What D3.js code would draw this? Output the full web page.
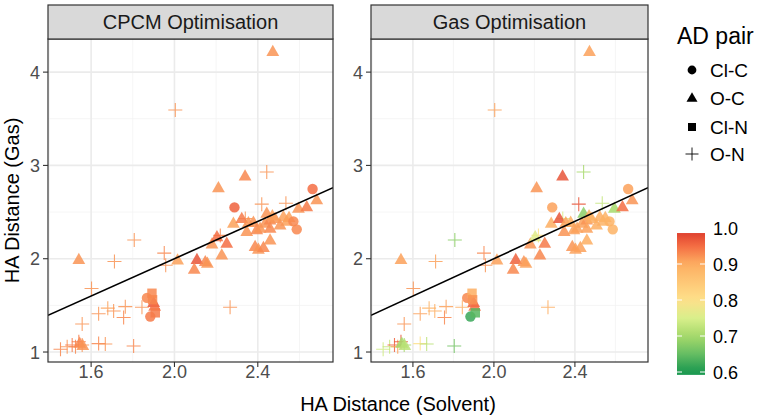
<!DOCTYPE html>
<html>
<head>
<meta charset="utf-8">
<script src="https://cdn.jsdelivr.net/npm/d3@7"></script>
<style>
  body { margin: 0; background: #fff; }
  text { font-family: "Liberation Sans", Arial, sans-serif; }
</style>
</head>
<body>
<script>
var width = 765;
var height = 416;

// facets and legend entries
var panels = ["CPCM Optimisation", "Gas Optimisation"];
var pairs = ["Cl-C", "O-C", "Cl-N", "O-N"];
var xTicks = [1.6, 2.0, 2.4];
var xMinor = [1.4, 1.8, 2.2, 2.6];
var yTicks = [1, 2, 3, 4];
var yMinor = [1.5, 2.5, 3.5];
var scoreTicks = [0.6, 0.7, 0.8, 0.9, 1.0];

// HA distances (same in both panels), AD pair and score per optimisation
var xSolvent = [1.807, 1.712, 1.951, 1.958, 1.602, 1.636, 1.680, 1.708, 1.764, 1.756,
  1.844, 1.557, 1.804, 1.636, 1.668, 1.453, 1.485, 1.509, 1.525, 1.541,
  1.557, 2.004, 2.443, 2.419, 2.535, 2.267, 2.220, 2.340,
  2.472, 2.339, 2.211, 1.541, 2.015, 2.108, 2.095, 2.148, 2.158, 2.227,
  2.180, 2.251, 2.204, 2.283, 2.323, 2.355, 2.379, 2.347, 2.395, 2.443,
  2.435, 2.459, 2.483, 2.523, 2.539, 2.507, 2.459, 2.411, 2.595, 2.635,
  2.683, 2.387, 2.403, 2.427, 2.459, 1.545, 1.560, 2.470, 2.550,
  1.900, 1.905,
  2.288, 2.663, 2.571, 2.587, 1.868, 1.884,
  1.892, 1.908, 1.895];
var yGas = [2.20, 1.97, 2.06, 1.93, 1.68, 1.41, 1.47, 1.44, 1.486, 1.37,
  1.48, 1.30, 1.064, 1.09, 1.086, 1.03, 1.057, 1.075, 1.057, 1.11,
  1.075, 3.594, 2.93, 2.585, 2.595, 1.48, 2.25, 2.43,
  4.22, 2.886, 2.76, 1.99, 1.986, 1.99, 1.887, 1.968, 1.95, 2.04,
  2.157, 2.165, 2.235, 2.38, 2.43, 2.386, 2.39, 2.29, 2.31, 2.486,
  2.38, 2.415, 2.43, 2.45, 2.40, 2.36, 2.325, 2.325, 2.54, 2.556,
  2.63, 2.13, 2.10, 2.12, 2.20, 1.093, 1.07, 2.46, 2.44,
  1.53, 1.49,
  2.55, 2.747, 2.40, 2.315, 1.58, 1.38,
  1.63, 1.42, 1.56];
var pair = ["O-N", "O-N", "O-N", "O-N", "O-N", "O-N", "O-N", "O-N", "O-N", "O-N",
  "O-N", "O-N", "O-N", "O-N", "O-N", "O-N", "O-N", "O-N", "O-N", "O-N",
  "O-N", "O-N", "O-N", "O-N", "O-N", "O-N", "O-N", "O-N",
  "O-C", "O-C", "O-C", "O-C", "O-C", "O-C", "O-C", "O-C", "O-C", "O-C",
  "O-C", "O-C", "O-C", "O-C", "O-C", "O-C", "O-C", "O-C", "O-C", "O-C",
  "O-C", "O-C", "O-C", "O-C", "O-C", "O-C", "O-C", "O-C", "O-C", "O-C",
  "O-C", "O-C", "O-C", "O-C", "O-C", "O-C", "O-C", "O-C", "O-C",
  "O-C", "O-C",
  "Cl-C", "Cl-C", "Cl-C", "Cl-C", "Cl-C", "Cl-C",
  "Cl-N", "Cl-N", "Cl-N"];
var cpcmScore = [0.92, 0.92, 0.93, 0.92, 0.92, 0.92, 0.91, 0.92, 0.92, 0.93,
  0.92, 0.92, 0.93, 0.93, 0.92, 0.93, 0.92, 0.94, 0.93, 0.94,
  0.92, 0.92, 0.92, 0.92, 0.92, 0.92, 0.93, 0.92,
  0.92, 0.93, 0.92, 0.92, 0.91, 0.97, 0.93, 0.93, 0.92, 0.92,
  0.92, 0.95, 0.95, 0.91, 0.94, 0.92, 0.92, 0.92, 0.93, 0.92,
  0.92, 0.93, 0.92, 0.91, 0.91, 0.92, 0.93, 0.92, 0.92, 0.94,
  0.92, 0.93, 0.92, 0.93, 0.92, 0.93, 0.92, 0.91, 0.91,
  0.97, 0.95,
  0.96, 0.95, 0.93, 0.93, 0.93, 0.94,
  0.93, 0.94, 0.93];
var gasScore = [0.68, 0.91, 0.93, 0.92, 0.92, 0.91, 0.89, 0.90, 0.91, 0.93,
  0.90, 0.92, 0.66, 0.80, 0.72, 0.74, 0.73, 0.96, 0.91, 0.97,
  0.70, 0.91, 0.70, 0.97, 0.73, 0.90, 0.80, 0.75,
  0.91, 0.97, 0.92, 0.91, 0.91, 0.96, 0.93, 0.92, 0.91, 0.93,
  0.92, 0.94, 0.76, 0.90, 0.97, 0.91, 0.90, 0.92, 0.91, 0.68,
  0.91, 0.92, 0.90, 0.90, 0.89, 0.90, 0.91, 0.91, 0.70, 0.95,
  0.92, 0.92, 0.91, 0.91, 0.90, 0.70, 0.72, 0.89, 0.89,
  0.96, 0.95,
  0.91, 0.91, 0.89, 0.89, 0.93, 0.62,
  0.90, 0.64, 0.92];

var scores = [cpcmScore, gasScore];

var color = d3.scaleLinear()
  .domain([0.6, 0.65, 0.7, 0.75, 0.8, 0.9, 0.95, 1.0])
  .range(["#1a9850", "#66bd63", "#a6d96a", "#d9ef8b", "#fee08b", "#fdae61", "#f46d43", "#d73027"])
  .clamp(true);

var panelBox = [
  { x0: 48, x1: 333 },
  { x0: 371, x1: 648 }
];
var panelTop = 39, panelBottom = 362, stripTop = 5;

var svg = d3.select("body").append("svg")
  .attr("width", width)
  .attr("height", height);

var y = d3.scaleLinear().domain([0.893, 4.355]).range([panelBottom, panelTop]);

function shapePath(p) {
  if (p == "Cl-C") return "M-5.2,0A5.2,5.2 0 1,0 5.2,0A5.2,5.2 0 1,0 -5.2,0Z";
  if (p == "O-C") return "M0,-6.8L6.4,4.4L-6.4,4.4Z";
  if (p == "Cl-N") return "M-4.7,-4.7H4.7V4.7H-4.7Z";
  return "M-7,0H7M0,-7V7";
}

function legendPath(p) {
  if (p == "Cl-C") return "M-4.4,0A4.4,4.4 0 1,0 4.4,0A4.4,4.4 0 1,0 -4.4,0Z";
  if (p == "O-C") return "M0,-5.8L5.5,3.8L-5.5,3.8Z";
  if (p == "Cl-N") return "M-4,-4H4V4H-4Z";
  return "M-6.5,0H6.5M0,-6.5V6.5";
}

panels.forEach(function(name, i) {
  var box = panelBox[i];
  var x = d3.scaleLinear().domain([1.393, 2.761]).range([box.x0, box.x1]);
  var g = svg.append("g");

  g.append("clipPath").attr("id", "clip" + i)
    .append("rect")
    .attr("x", box.x0).attr("y", panelTop)
    .attr("width", box.x1 - box.x0).attr("height", panelBottom - panelTop);

  // grid
  g.selectAll(".xminor").data(xMinor).enter().append("line")
    .attr("x1", x).attr("x2", x).attr("y1", panelTop).attr("y2", panelBottom)
    .style("stroke", "#f2f2f2").style("stroke-width", 0.8);
  g.selectAll(".yminor").data(yMinor).enter().append("line")
    .attr("x1", box.x0).attr("x2", box.x1).attr("y1", y).attr("y2", y)
    .style("stroke", "#f2f2f2").style("stroke-width", 0.8);
  g.selectAll(".xmajor").data(xTicks).enter().append("line")
    .attr("x1", x).attr("x2", x).attr("y1", panelTop).attr("y2", panelBottom)
    .style("stroke", "#ebebeb").style("stroke-width", 1.6);
  g.selectAll(".ymajor").data(yTicks).enter().append("line")
    .attr("x1", box.x0).attr("x2", box.x1).attr("y1", y).attr("y2", y)
    .style("stroke", "#ebebeb").style("stroke-width", 1.6);

  // points
  var pts = d3.range(xSolvent.length);
  var layer = g.append("g").attr("clip-path", "url(#clip" + i + ")");
  layer.selectAll("path.pt").data(pts).enter().append("path")
    .attr("class", "pt")
    .attr("transform", function(d) { return "translate(" + x(xSolvent[d]) + "," + y(yGas[d]) + ")"; })
    .attr("d", function(d) { return shapePath(pair[d]); })
    .style("fill", function(d) { return pair[d] == "O-N" ? "none" : color(scores[i][d]); })
    .style("stroke", function(d) { return pair[d] == "O-N" ? color(scores[i][d]) : "none"; })
    .style("stroke-width", 1.1)
    .style("opacity", 0.85);

  // identity line
  layer.append("line")
    .attr("x1", x(1.393)).attr("y1", y(1.393))
    .attr("x2", x(2.761)).attr("y2", y(2.761))
    .style("stroke", "#000").style("stroke-width", 1.6);

  // border and strip
  g.append("rect")
    .attr("x", box.x0).attr("y", panelTop)
    .attr("width", box.x1 - box.x0).attr("height", panelBottom - panelTop)
    .style("fill", "none").style("stroke", "#333").style("stroke-width", 1.2);
  g.append("rect")
    .attr("x", box.x0).attr("y", stripTop)
    .attr("width", box.x1 - box.x0).attr("height", panelTop - stripTop)
    .style("fill", "#d9d9d9").style("stroke", "#333").style("stroke-width", 1.2);
  g.append("text")
    .attr("x", (box.x0 + box.x1) / 2).attr("y", 29)
    .attr("text-anchor", "middle")
    .style("font-size", "20px").style("fill", "#1a1a1a")
    .text(name);

  // axes
  g.selectAll(".xt").data(xTicks).enter().append("line")
    .attr("x1", x).attr("x2", x).attr("y1", panelBottom).attr("y2", panelBottom + 5)
    .style("stroke", "#333").style("stroke-width", 1.1);
  g.selectAll(".xl").data(xTicks).enter().append("text")
    .attr("x", x).attr("y", 378)
    .attr("text-anchor", "middle")
    .style("font-size", "18px").style("fill", "#4d4d4d")
    .text(function(d) { return d3.format(".1f")(d); });
  g.selectAll(".yt").data(yTicks).enter().append("line")
    .attr("x1", box.x0 - 5).attr("x2", box.x0).attr("y1", y).attr("y2", y)
    .style("stroke", "#333").style("stroke-width", 1.1);
  g.selectAll(".yl").data(yTicks).enter().append("text")
    .attr("x", box.x0 - 8).attr("y", function(d) { return y(d) + 6.5; })
    .attr("text-anchor", "end")
    .style("font-size", "18px").style("fill", "#4d4d4d")
    .text(function(d) { return d; });
});

// axis titles
svg.append("text")
  .attr("x", 398).attr("y", 411)
  .attr("text-anchor", "middle")
  .style("font-size", "20px").style("fill", "#000")
  .text("HA Distance (Solvent)");
svg.append("text")
  .attr("transform", "translate(19," + ((panelTop + panelBottom) / 2) + ") rotate(-90)")
  .attr("text-anchor", "middle")
  .style("font-size", "20px").style("fill", "#000")
  .text("HA Distance (Gas)");

// shape legend
svg.append("text")
  .attr("x", 677).attr("y", 44)
  .style("font-size", "23px").style("fill", "#000")
  .text("AD pair");
var legendY = [70, 98, 127, 154];
var leg = svg.selectAll(".leg").data(pairs).enter().append("g")
  .attr("transform", function(d, i) { return "translate(692," + legendY[i] + ")"; });
leg.append("path")
  .attr("d", legendPath)
  .style("fill", function(d) { return d == "O-N" ? "none" : "#000"; })
  .style("stroke", function(d) { return d == "O-N" ? "#000" : "none"; })
  .style("stroke-width", 0.9);
leg.append("text")
  .attr("x", 18).attr("y", 7)
  .style("font-size", "19px").style("fill", "#000")
  .text(function(d) { return d; });

// colour bar
var barY = d3.scaleLinear().domain([0.6, 1.0]).range([372, 228]);
var barLo = 0.592, barHi = 0.986;
var grad = svg.append("defs").append("linearGradient")
  .attr("id", "bar").attr("x1", 0).attr("y1", 1).attr("x2", 0).attr("y2", 0);
grad.selectAll("stop").data(d3.range(21)).enter().append("stop")
  .attr("offset", function(d) { return d / 20; })
  .attr("stop-color", function(d) { return color(barLo + (barHi - barLo) * d / 20); });
svg.append("rect")
  .attr("x", 677).attr("y", barY(barHi))
  .attr("width", 28).attr("height", barY(barLo) - barY(barHi))
  .style("fill", "url(#bar)");
var inBar = scoreTicks.filter(function(d) { return d <= barHi; });
svg.selectAll(".bt1").data(inBar).enter().append("line")
  .attr("x1", 677).attr("x2", 682).attr("y1", barY).attr("y2", barY)
  .style("stroke", "#fff").style("stroke-width", 1);
svg.selectAll(".bt2").data(inBar).enter().append("line")
  .attr("x1", 700).attr("x2", 705).attr("y1", barY).attr("y2", barY)
  .style("stroke", "#fff").style("stroke-width", 1);
svg.selectAll(".bl").data(scoreTicks).enter().append("text")
  .attr("x", 713).attr("y", function(d) { return barY(d) + 7; })
  .style("font-size", "18px").style("fill", "#000")
  .text(function(d) { return d3.format(".1f")(d); });
</script>
</body>
</html>
